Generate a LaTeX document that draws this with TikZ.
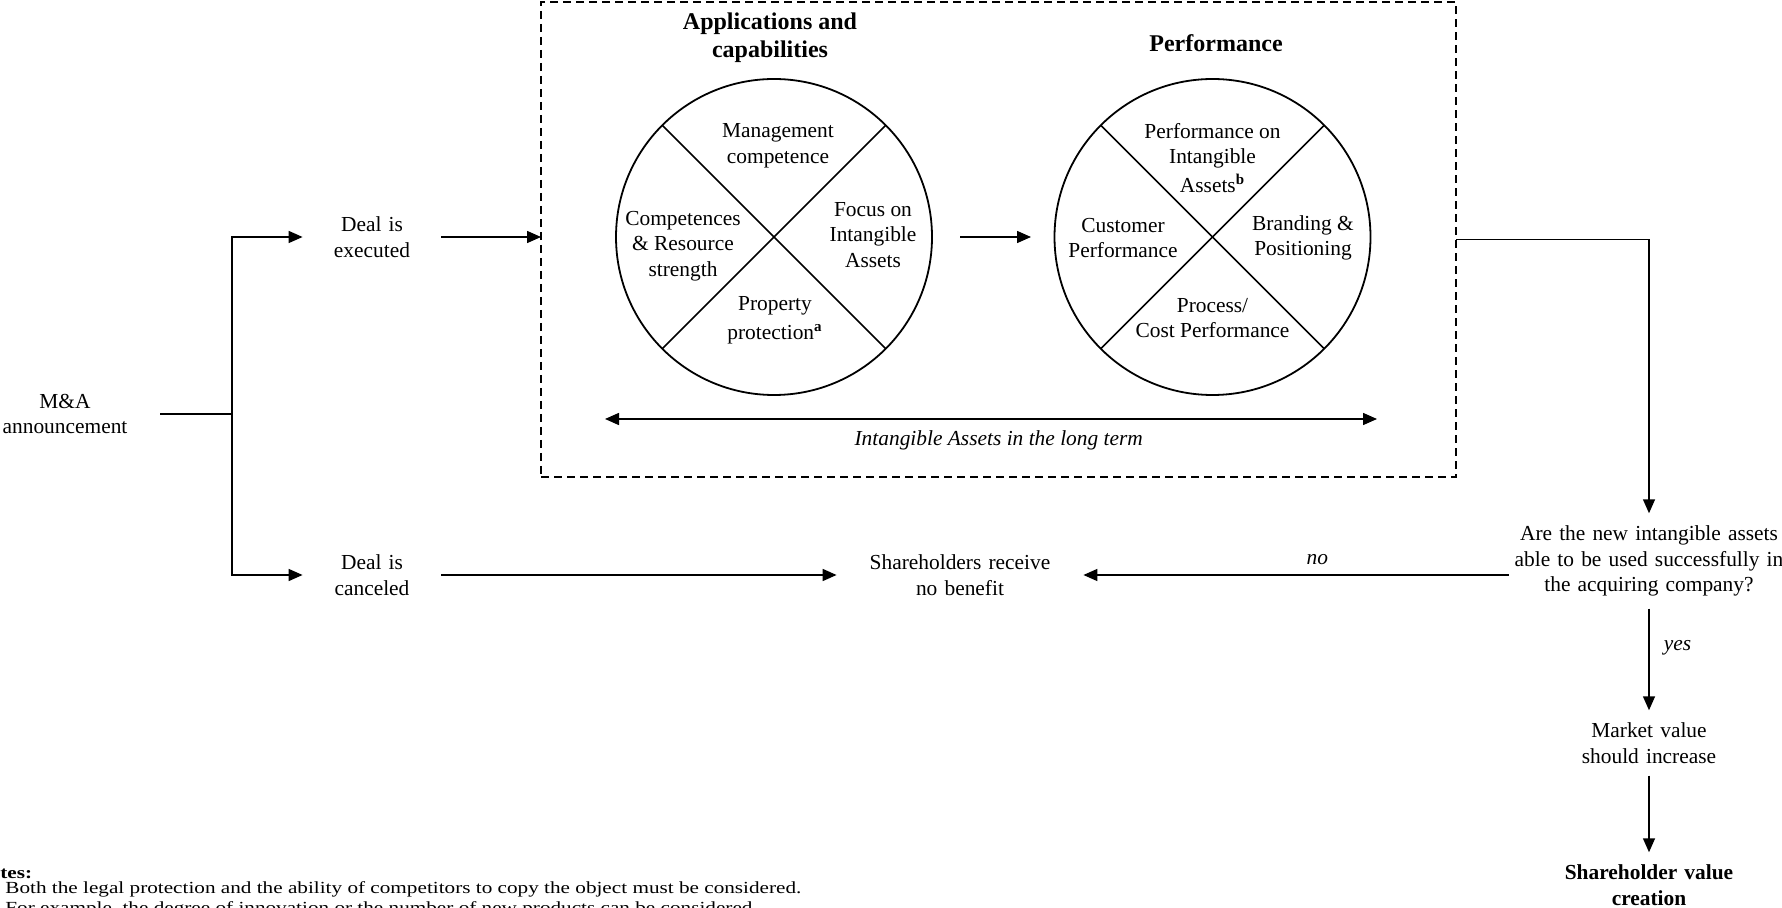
\documentclass[tikz,border=0pt]{standalone}
\usepackage{fontspec}
\setmainfont{Liberation Serif}
\usetikzlibrary{arrows.meta,positioning,calc}

\begin{document}
\begin{tikzpicture}[
  x=1pt, y=1pt,
  >={Triangle[length=7pt,width=6pt]},
  lbl/.style={align=center, inner sep=2pt, font=\fontsize{10.7}{12.8}\selectfont},
  stage/.style={lbl, text width=#1},
  goal/.style={stage=#1, font=\fontsize{10.7}{12.8}\selectfont\bfseries},
  tag/.style={lbl, font=\fontsize{10.7}{12.8}\selectfont\itshape},
  heading/.style={align=center, inner sep=2pt, font=\fontsize{12}{14.3}\selectfont\bfseries},
  disc/.style={circle, draw, line width=.9pt, minimum size=158pt, inner sep=0pt, outer sep=0pt},
  zone/.style={draw, line width=.75pt, dash pattern=on 4pt off 2.5pt, inner sep=0pt, outer sep=0pt},
  flow/.style={->, line width=.75pt},
  link/.style={line width=.75pt}
]
  \useasboundingbox (0,0) rectangle (891,-454);

  % left part: announcement and the two outcomes
  \node[stage=91pt] (mna) at (32.5,-207) {M\&A\\announcement};
  \coordinate (split) at (116,-207);
  \node[stage=65pt] (exec) at (186,-118.5) {Deal is\\executed};
  \node[stage=65pt, on grid, below=169pt of exec] (canc) {Deal is\\canceled};
  \node[stage=119pt, on grid, right=294pt of canc] (nobft) {Shareholders receive\\no benefit};

  % dashed frame with the two circles
  \node[zone, minimum width=457.5pt, minimum height=237.5pt] (frame) at (499.25,-119.75) {};
  \node[heading] (capT) at (385,-18.8) {Applications and\\capabilities};
  \node[heading] (perfT) at (608,-21.5) {Performance};

  \node[disc] (capC) at (387,-118.5) {};
  \node[disc, on grid, right=219.25pt of capC] (perfC) {};
  \draw[link] (capC.north west) -- (capC.south east);
  \draw[link] (capC.north east) -- (capC.south west);
  \draw[link] (perfC.north west) -- (perfC.south east);
  \draw[link] (perfC.north east) -- (perfC.south west);

  \node[lbl] (capN) at ($(capC)+(2,45.5)$) {Management\\competence};
  \node[lbl] (capE) at ($(capC)+(49.5,1)$) {Focus on\\Intangible\\Assets};
  \node[lbl] (capW) at ($(capC)+(-45.5,-4.5)$) {Competences\\\& Resource\\strength};
  \node[lbl] (capS) at ($(capC)+(0.5,-41.5)$) {Property\\[1.5pt]protection\textsuperscript{\bfseries a}};

  \node[lbl] (perfN) at ($(perfC)+(0,39.5)$) {Performance on\\Intangible\\[1.5pt]Assets\textsuperscript{\bfseries b}};
  \node[lbl] (perfW) at ($(perfC)+(-44.75,-0.5)$) {Customer\\Performance};
  \node[lbl] (perfE) at ($(perfC)+(45.25,-0.5)$) {Branding \&\\Positioning};
  \node[lbl] (perfS) at ($(perfC)+(0,-40.5)$) {Process/\\Cost Performance};

  \draw[flow, shorten <=14pt, shorten >=11.75pt] (capC) -- (perfC);

  \coordinate (ltL) at (302.5,-209.5);
  \coordinate (ltR) at (688.5,-209.5);
  \draw[<->, line width=.75pt] (ltL) -- node[tag, below=3.5pt, pos=.51] (ltLbl) {Intangible Assets in the long term} (ltR);

  % right column
  \node[stage=140pt, inner xsep=0pt, inner ysep=6pt] (question) at (824.5,-280.5) {Are the new intangible assets\\able to be used successfully in\\the acquiring company?};
  \node[stage=80pt, inner ysep=6pt, on grid, below=91pt of question] (market) {Market value\\should increase};
  \node[goal=90pt, inner ysep=6pt, on grid, below=71pt of market] (creation) {Shareholder value\\creation};

  % connectors
  \draw[link] (mna) -- (split);
  \draw[flow] (split) |- (exec.west);
  \draw[flow] (split) |- (canc.west);
  \draw[flow] (exec) -- (exec -| frame.west);
  \draw[flow] (canc) -- (nobft);
  \draw[flow] (frame.east) -| (question);
  \draw[flow] (question.west |- nobft) -- node[tag, above=3pt, pos=.45] (noLbl) {no} (nobft);
  \draw[flow] (question) -- node[tag, right=5pt, pos=.38] (yesLbl) {yes} (market);
  \draw[flow] (market) -- (creation);

  % notes, cut at the page edge
  \node[align=left, inner sep=0pt, anchor=north west, font=\fontsize{10.6}{9.4}\selectfont,
    yscale=.8, transform shape] (notes) at (-13,-433.5) {\textbf{Notes:}\\
    \makebox[15.5pt][l]{\textsuperscript{a}}Both the legal protection and the ability of competitors to copy the object must be considered.\\
    \makebox[15.5pt][l]{\textsuperscript{b}}For example, the degree of innovation or the number of new products can be considered.};
\end{tikzpicture}
\end{document}
